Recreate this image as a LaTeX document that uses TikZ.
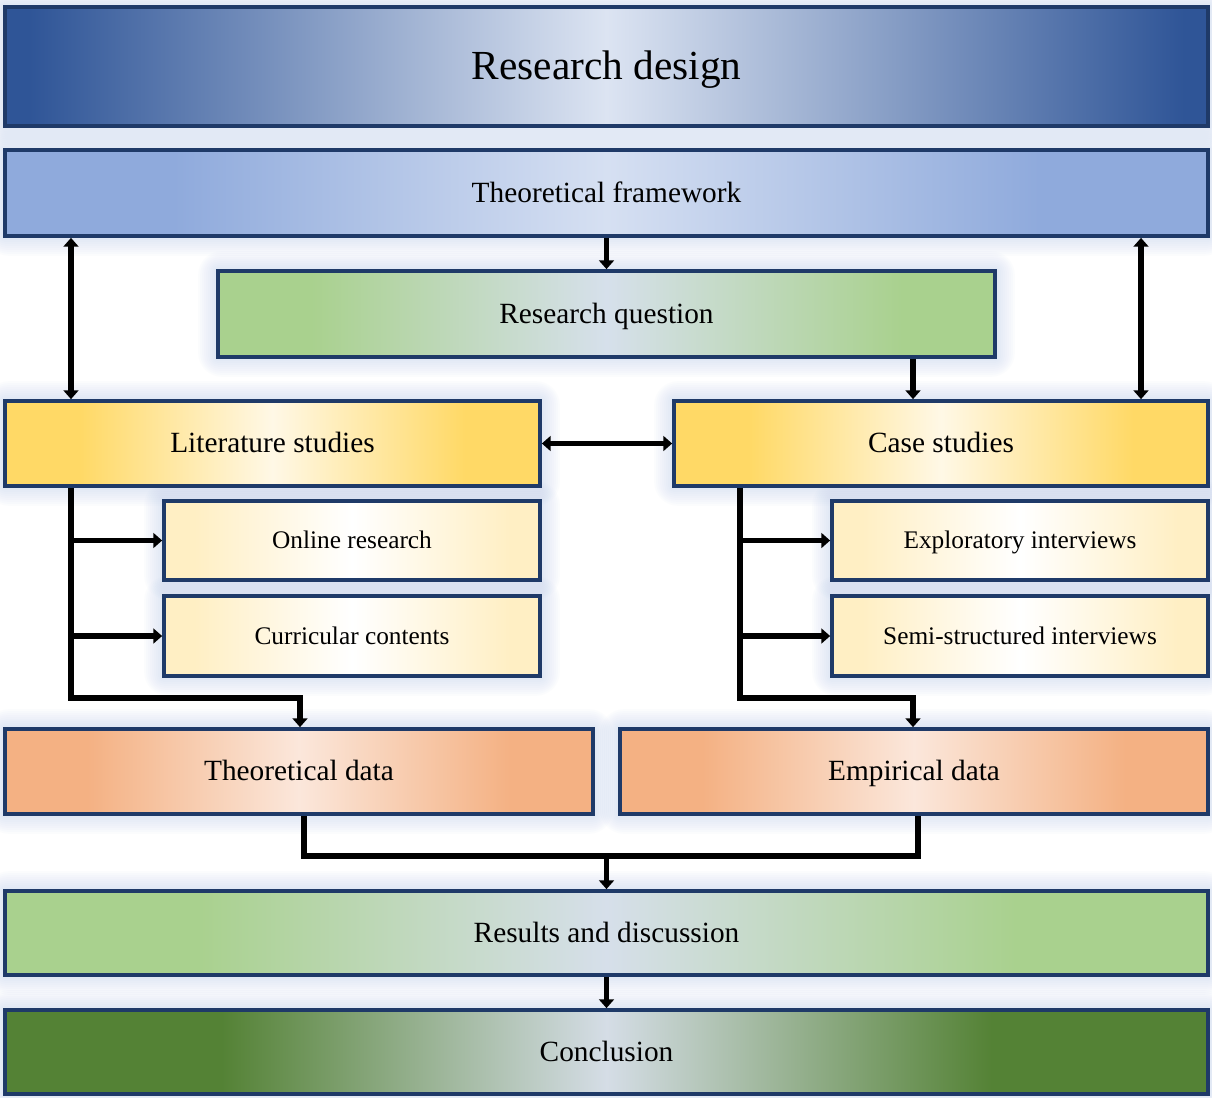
\documentclass[tikz,border=0pt]{standalone}
\usepackage{fontspec}
\setmainfont{Liberation Serif}
\usetikzlibrary{arrows.meta,backgrounds,calc}

% frame and glow colours
\definecolor{frame}{HTML}{1F3A68}
\definecolor{glow}{HTML}{B4C7E7}
% edge / middle colours of the horizontal fills
\definecolor{rdE}{HTML}{2F5597}\definecolor{rdM}{HTML}{DCE4F2}
\definecolor{tfE}{HTML}{8FAADC}\definecolor{tfM}{HTML}{D6E0F2}
\definecolor{rqE}{HTML}{A9D18E}\definecolor{rqM}{HTML}{D6E0EB}
\definecolor{ylE}{HTML}{FFD966}\definecolor{ylM}{HTML}{FFF8E6}
\definecolor{syE}{HTML}{FFEFC4}\definecolor{syM}{HTML}{FFFFFF}
\definecolor{orE}{HTML}{F4B183}\definecolor{orM}{HTML}{FBE7DB}
\definecolor{rsE}{HTML}{A9D18E}\definecolor{rsM}{HTML}{D6DFEA}
\definecolor{cnE}{HTML}{548235}\definecolor{cnM}{HTML}{D5DDE6}

% horizontal fills: edge colour held flat near both ends, light in the middle
\pgfdeclarehorizontalshading{rdS}{100bp}{color(0bp)=(rdE); color(26bp)=(rdE); color(50bp)=(rdM); color(74bp)=(rdE); color(100bp)=(rdE)}
\pgfdeclarehorizontalshading{tfS}{100bp}{color(0bp)=(tfE); color(32bp)=(tfE); color(50bp)=(tfM); color(68bp)=(tfE); color(100bp)=(tfE)}
\pgfdeclarehorizontalshading{rqS}{100bp}{color(0bp)=(rqE); color(31bp)=(rqE); color(50bp)=(rqM); color(69bp)=(rqE); color(100bp)=(rqE)}
\pgfdeclarehorizontalshading{ylS}{100bp}{color(0bp)=(ylE); color(32bp)=(ylE); color(50bp)=(ylM); color(68bp)=(ylE); color(100bp)=(ylE)}
\pgfdeclarehorizontalshading{syS}{100bp}{color(0bp)=(syE); color(29bp)=(syE); color(50bp)=(syM); color(71bp)=(syE); color(100bp)=(syE)}
\pgfdeclarehorizontalshading{orS}{100bp}{color(0bp)=(orE); color(32bp)=(orE); color(50bp)=(orM); color(68bp)=(orE); color(100bp)=(orE)}
\pgfdeclarehorizontalshading{rsS}{100bp}{color(0bp)=(rsE); color(33bp)=(rsE); color(50bp)=(rsM); color(67bp)=(rsE); color(100bp)=(rsE)}
\pgfdeclarehorizontalshading{cnS}{100bp}{color(0bp)=(cnE); color(34bp)=(cnE); color(50bp)=(cnM); color(66bp)=(cnE); color(100bp)=(cnE)}

\tikzset{
  box/.style={draw=frame, line width=2.8pt, inner sep=0pt, text=black, shade},
  big/.style={font=\fontsize{31}{36}\selectfont, text height=26.7pt, text depth=6.8pt},
  mid/.style={font=\fontsize{22}{26}\selectfont, text height=18.9pt, text depth=4.8pt},
  small/.style={font=\fontsize{19}{23}\selectfont, text height=16.3pt, text depth=4.2pt},
  conn/.style={line width=4.2pt, black},
  tip/.tip={Triangle[length=6.5pt,width=11pt]},
}

\begin{document}
\begin{tikzpicture}[x=0.75pt,y=-0.75pt]
\useasboundingbox (0,0) rectangle (1212,1097);

% boxes: centre in px, size in px
\node[box,big,shading=rdS,minimum width=0.75pt*1203,minimum height=0.75pt*119] (rd) at (606.5,66.5) {Research design};
\node[box,mid,shading=tfS,minimum width=0.75pt*1203,minimum height=0.75pt*86] (tf) at (606.5,193) {Theoretical framework};
\node[box,mid,shading=rqS,minimum width=0.75pt*777,minimum height=0.75pt*86] (rq) at (606.5,314) {Research question};
\node[box,mid,shading=ylS,minimum width=0.75pt*535,minimum height=0.75pt*85] (lit) at (272.5,443.5) {Literature studies};
\node[box,mid,shading=ylS,minimum width=0.75pt*534,minimum height=0.75pt*85] (cs) at (941,443.5) {Case studies};
\node[box,small,shading=syS,minimum width=0.75pt*376,minimum height=0.75pt*79] (onl) at (352,540.5) {Online research};
\node[box,small,shading=syS,minimum width=0.75pt*376,minimum height=0.75pt*80] (cur) at (352,636) {Curricular contents};
\node[box,small,shading=syS,minimum width=0.75pt*376,minimum height=0.75pt*79] (exp) at (1020,540.5) {Exploratory interviews};
\node[box,small,shading=syS,minimum width=0.75pt*376,minimum height=0.75pt*80] (semi) at (1020,636) {Semi-structured interviews};
\node[box,mid,shading=orS,minimum width=0.75pt*588,minimum height=0.75pt*85] (td) at (299,771.5) {Theoretical data};
\node[box,mid,shading=orS,minimum width=0.75pt*588,minimum height=0.75pt*85] (ed) at (914,771.5) {Empirical data};
\node[box,mid,shading=rsS,minimum width=0.75pt*1203,minimum height=0.75pt*84] (res) at (606.5,933) {Results and discussion};
\node[box,mid,shading=cnS,minimum width=0.75pt*1203,minimum height=0.75pt*84] (con) at (606.5,1052) {Conclusion};

% soft glow behind every box
\begin{scope}[on background layer]
  \fill[white] (0,0) rectangle (1212,1097);
  \foreach \n in {rd,tf,rq,lit,cs,onl,cur,exp,semi,td,ed,res,con}{
    \foreach \d in {2,4,...,18}{
      \fill[glow,opacity=0.045,rounded corners=\d pt]
        ($(\n.north west)+(-\d,-\d)$) rectangle ($(\n.south east)+(\d,\d)$);
    }
  }
\end{scope}

% bus positions
\coordinate (xL) at (71,0);
\coordinate (xR) at (1141,0);
\coordinate (xQ) at (913,0);
\coordinate (xC) at (740,0);
\coordinate (xT) at (300,0);
\coordinate (xE) at (913,0);
\coordinate (xTo) at (304,0);
\coordinate (xEo) at (918,0);
\coordinate (yB) at (0,698);
\coordinate (yM) at (0,856);

% connectors
\draw[conn,{tip}-{tip}] (tf.south -| xL) -- (lit.north -| xL);
\draw[conn,-{tip}] (tf.south) -- (rq.north);
\draw[conn,{tip}-{tip}] (tf.south -| xR) -- (cs.north -| xR);
\draw[conn,-{tip}] (rq.south -| xQ) -- (cs.north -| xQ);
\draw[conn,{tip}-{tip}] (lit.east) -- (cs.west);

\draw[conn,-{tip}] (lit.south -| xL) -- (xL |- yB) -- (xT |- yB) -- (td.north -| xT);
\draw[conn,-{tip}] (onl.west -| xL) -- (onl.west);
\draw[conn,-{tip}] (cur.west -| xL) -- (cur.west);

\draw[conn,-{tip}] (cs.south -| xC) -- (xC |- yB) -- (xE |- yB) -- (ed.north -| xE);
\draw[conn,-{tip}] (exp.west -| xC) -- (exp.west);
\draw[conn,-{tip}] (semi.west -| xC) -- (semi.west);

\draw[conn] (td.south -| xTo) -- (xTo |- yM) -- (xEo |- yM) -- (ed.south -| xEo);
\draw[conn,-{tip}] (res.north |- yM) -- (res.north);
\draw[conn,-{tip}] (res.south) -- (con.north);
\end{tikzpicture}
\end{document}
